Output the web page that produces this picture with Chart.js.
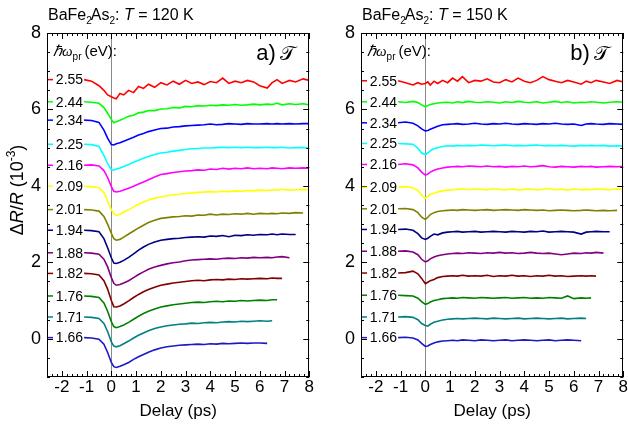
<!DOCTYPE html>
<html><head><meta charset="utf-8">
<script src="https://cdn.jsdelivr.net/npm/chart.js@4/dist/chart.umd.min.js"></script>
<style>
body{margin:0;background:#fff;}
#wrap{position:relative;width:628px;height:430px;overflow:hidden;}
.pan{position:absolute;top:0;width:314px;height:430px;}
</style>
</head><body>
<div id="wrap">
<div class="pan" style="left:0"><canvas id="c1" width="314" height="430"></canvas></div>
<div class="pan" style="left:314px"><canvas id="c2" width="314" height="430"></canvas></div>
</div>
<script>
// ---- data ----
const delays = [-1.1,-0.8,-0.5,-0.3,-0.15,0,0.1,0.2,0.35,0.5,0.7,0.9,1.1,1.3,1.5,1.75,2.0,2.25,2.5,2.75,3.0,3.25,3.5,3.75,4.0,4.25,4.5,4.75,5.0,5.25,5.5,5.75,6.0,6.3,6.5,6.7,6.9,7.2,7.45,7.75,8.0];
const energies = ['2.55','2.44','2.34','2.25','2.16','2.09','2.01','1.94','1.88','1.82','1.76','1.71','1.66'];
const colors = ['#ff0000','#00ff00','#0000ff','#00ffff','#ff00ff','#ffff00','#808000','#000080','#800080','#800000','#008000','#008080','#1a1ac4'];
const xTickValues = [-2,-1,0,1,2,3,4,5,6,7,8];
const yTickValues = [0,2,4,6,8];

// T = 120 K
const a255 = [6.78,6.74,6.62,6.50,6.38,6.33,6.30,6.28,6.42,6.38,6.50,6.44,6.60,6.55,6.66,6.58,6.70,6.64,6.74,6.66,6.76,6.68,6.72,6.65,6.73,6.70,6.82,6.68,6.74,6.70,6.76,6.72,6.62,6.56,6.70,6.78,6.68,6.76,6.72,6.80,6.76];
const a244 = [6.20,6.19,6.16,6.05,5.90,5.74,5.65,5.68,5.72,5.76,5.82,5.85,5.91,5.93,5.97,5.97,6.01,6.02,6.05,6.04,6.08,6.07,6.10,6.09,6.11,6.10,6.12,6.11,6.13,6.11,6.12,6.14,6.12,6.14,6.13,6.16,6.12,6.15,6.13,6.15,6.12];
const a234 = [5.72,5.71,5.66,5.46,5.25,5.08,5.07,5.10,5.13,5.17,5.22,5.27,5.33,5.37,5.42,5.46,5.50,5.51,5.54,5.55,5.57,5.58,5.59,5.60,5.62,5.60,5.61,5.63,5.62,5.61,5.63,5.62,5.62,5.63,5.62,5.63,5.62,5.63,5.62,5.63,5.63];
const a225 = [5.09,5.08,5.03,4.80,4.58,4.43,4.41,4.44,4.47,4.51,4.56,4.62,4.67,4.72,4.77,4.82,4.86,4.88,4.91,4.93,4.95,4.97,4.98,4.99,4.99,5.00,5.01,5.00,5.01,5.00,5.01,5.00,5.00,5.01,5.00,5.00,5.01,4.99,5.00,5.00,4.99];
const a216 = [4.54,4.55,4.52,4.40,4.22,3.98,3.86,3.84,3.86,3.89,3.94,3.99,4.05,4.10,4.16,4.23,4.30,4.32,4.35,4.37,4.39,4.40,4.42,4.41,4.44,4.43,4.46,4.44,4.46,4.45,4.47,4.45,4.46,4.45,4.47,4.46,4.45,4.47,4.46,4.47,4.46];
const a209 = [3.99,3.98,3.95,3.82,3.60,3.38,3.27,3.23,3.26,3.31,3.38,3.45,3.52,3.58,3.63,3.68,3.71,3.74,3.77,3.78,3.80,3.81,3.83,3.84,3.85,3.84,3.86,3.85,3.87,3.86,3.88,3.87,3.89,3.88,3.90,3.89,3.91,3.89,3.90,3.91,3.90];
const a201 = [3.38,3.37,3.34,3.20,3.00,2.76,2.62,2.58,2.60,2.66,2.74,2.82,2.90,2.97,3.04,3.10,3.15,3.17,3.19,3.20,3.22,3.21,3.24,3.23,3.26,3.24,3.26,3.25,3.27,3.26,3.28,3.26,3.28,3.27,3.28,3.27,3.29,3.28,3.30,3.29];
const a194 = [2.84,2.83,2.80,2.62,2.38,2.12,1.98,1.97,2.00,2.05,2.13,2.22,2.32,2.40,2.47,2.53,2.58,2.60,2.62,2.63,2.65,2.66,2.67,2.66,2.69,2.68,2.70,2.67,2.71,2.70,2.72,2.71,2.73,2.72,2.74,2.72,2.74,2.73,2.73];
const a188 = [2.25,2.24,2.21,2.08,1.88,1.60,1.45,1.40,1.42,1.46,1.52,1.60,1.68,1.75,1.82,1.88,1.92,1.96,1.99,2.01,2.04,2.06,2.07,2.08,2.09,2.08,2.10,2.11,2.10,2.12,2.11,2.13,2.12,2.13,2.12,2.14,2.15,2.12];
const a182 = [1.71,1.70,1.67,1.52,1.30,1.00,0.84,0.83,0.86,0.91,0.99,1.08,1.16,1.23,1.29,1.35,1.40,1.43,1.46,1.48,1.50,1.52,1.53,1.52,1.54,1.55,1.54,1.56,1.55,1.57,1.56,1.57,1.58,1.57,1.59,1.58,1.58];
const a176 = [1.12,1.11,1.08,0.94,0.72,0.45,0.32,0.29,0.32,0.36,0.43,0.51,0.59,0.66,0.72,0.78,0.83,0.86,0.89,0.91,0.93,0.95,0.96,0.95,0.97,0.98,0.97,0.99,0.98,1.00,0.99,1.00,1.01,1.00,1.02,1.02];
const a171 = [0.57,0.56,0.53,0.40,0.19,-0.08,-0.19,-0.21,-0.18,-0.13,-0.06,0.02,0.09,0.15,0.21,0.27,0.31,0.34,0.36,0.38,0.39,0.41,0.40,0.42,0.43,0.42,0.44,0.45,0.44,0.46,0.45,0.46,0.47,0.46,0.47];
const a166 = [0.03,0.02,-0.01,-0.14,-0.36,-0.62,-0.73,-0.75,-0.72,-0.68,-0.62,-0.54,-0.47,-0.41,-0.35,-0.29,-0.24,-0.21,-0.19,-0.17,-0.16,-0.15,-0.14,-0.15,-0.13,-0.14,-0.12,-0.13,-0.12,-0.11,-0.12,-0.11,-0.11,-0.12];

// T = 150 K
const b255 = [6.75,6.70,6.64,6.70,6.66,6.68,6.72,6.64,6.74,6.68,6.76,6.70,6.82,6.74,6.86,6.70,6.76,6.74,6.80,6.72,6.70,6.78,6.72,6.82,6.74,6.70,6.76,6.86,6.78,6.74,6.70,6.76,6.72,6.66,6.74,6.70,6.76,6.72,6.68,6.76,6.72];
const b244 = [6.20,6.18,6.21,6.18,6.12,6.07,6.10,6.13,6.15,6.17,6.18,6.19,6.17,6.20,6.18,6.21,6.19,6.18,6.20,6.19,6.17,6.20,6.18,6.21,6.19,6.18,6.20,6.17,6.19,6.21,6.18,6.20,6.17,6.19,6.18,6.20,6.19,6.17,6.19,6.20,6.19];
const b234 = [5.65,5.67,5.64,5.57,5.49,5.44,5.45,5.48,5.52,5.56,5.60,5.61,5.62,5.63,5.61,5.62,5.64,5.62,5.61,5.63,5.62,5.64,5.62,5.61,5.63,5.62,5.61,5.63,5.62,5.64,5.62,5.61,5.62,5.58,5.62,5.63,5.62,5.61,5.63,5.62,5.61];
const b225 = [5.11,5.10,5.09,4.98,4.86,4.82,4.86,4.92,4.97,5.00,5.03,5.05,5.04,5.06,5.05,5.06,5.05,5.07,5.06,5.05,5.06,5.07,5.05,5.06,5.05,5.06,5.07,5.05,5.06,5.05,5.06,5.05,5.04,5.06,5.05,5.06,5.05,5.06,5.04,5.05,5.04];
const b216 = [4.56,4.58,4.55,4.47,4.36,4.28,4.31,4.36,4.41,4.44,4.47,4.49,4.50,4.51,4.50,4.52,4.51,4.50,4.52,4.50,4.51,4.49,4.51,4.50,4.52,4.50,4.51,4.53,4.50,4.49,4.51,4.50,4.49,4.51,4.50,4.51,4.49,4.50,4.51,4.50,4.51];
const b209 = [3.96,3.98,3.95,3.88,3.76,3.67,3.72,3.78,3.81,3.84,3.87,3.89,3.90,3.91,3.92,3.90,3.92,3.91,3.90,3.93,3.91,3.90,3.92,3.89,3.91,3.92,3.90,3.91,3.93,3.90,3.91,3.89,3.92,3.90,3.91,3.90,3.92,3.91,3.90,3.92,3.91];
const b201 = [3.40,3.41,3.38,3.30,3.18,3.12,3.18,3.25,3.30,3.33,3.35,3.36,3.37,3.36,3.38,3.37,3.36,3.37,3.38,3.36,3.37,3.38,3.37,3.36,3.38,3.37,3.36,3.37,3.35,3.36,3.37,3.36,3.35,3.36,3.37,3.36,3.35,3.36,3.35,3.36];
const b194 = [2.86,2.87,2.84,2.75,2.64,2.60,2.63,2.68,2.74,2.72,2.77,2.79,2.80,2.81,2.79,2.80,2.81,2.79,2.80,2.81,2.80,2.79,2.81,2.80,2.79,2.81,2.80,2.82,2.79,2.80,2.81,2.80,2.79,2.74,2.79,2.80,2.81,2.80,2.80];
const b188 = [2.29,2.30,2.27,2.20,2.08,2.01,2.04,2.09,2.14,2.17,2.20,2.22,2.23,2.24,2.23,2.25,2.24,2.23,2.25,2.24,2.26,2.24,2.25,2.23,2.24,2.26,2.24,2.23,2.24,2.22,2.20,2.22,2.24,2.23,2.25,2.24,2.26,2.24];
const b182 = [1.72,1.73,1.77,1.70,1.58,1.44,1.48,1.52,1.55,1.60,1.63,1.64,1.65,1.64,1.66,1.64,1.65,1.64,1.66,1.63,1.65,1.64,1.66,1.64,1.65,1.63,1.65,1.64,1.66,1.64,1.65,1.63,1.64,1.65,1.64,1.65,1.64];
const b176 = [1.14,1.13,1.12,1.06,0.97,0.90,0.92,0.96,1.00,1.02,1.05,1.06,1.07,1.06,1.08,1.07,1.06,1.08,1.07,1.06,1.07,1.08,1.06,1.07,1.08,1.06,1.07,1.06,1.08,1.07,1.06,1.12,1.05,1.07,1.06,1.07];
const b171 = [0.57,0.58,0.56,0.50,0.40,0.35,0.33,0.38,0.43,0.46,0.49,0.51,0.52,0.53,0.52,0.53,0.54,0.53,0.52,0.54,0.53,0.52,0.53,0.54,0.52,0.53,0.54,0.53,0.52,0.53,0.54,0.52,0.53,0.54,0.53];
const b166 = [0.03,0.04,0.02,-0.03,-0.12,-0.20,-0.19,-0.15,-0.11,-0.08,-0.06,-0.05,-0.04,-0.05,-0.03,-0.04,-0.05,-0.03,-0.04,-0.05,-0.04,-0.03,-0.05,-0.04,-0.03,-0.04,-0.05,-0.04,-0.03,-0.05,-0.04,-0.03,-0.04,-0.05];

const series120 = [a255,a244,a234,a225,a216,a209,a201,a194,a188,a182,a176,a171,a166];
const series150 = [b255,b244,b234,b225,b216,b209,b201,b194,b188,b182,b176,b171,b166];

// ---- drawing ----
const FONT = "'Liberation Sans', Arial, sans-serif";
Chart.defaults.font.family = FONT;
Chart.defaults.color = '#000';

function rich(ctx, x, y, segs){
  let cx = x;
  segs.forEach(s => {
    ctx.font = s.f;
    ctx.fillText(s.t, cx, y + (s.dy||0));
    cx += ctx.measureText(s.t).width + (s.k||0);
  });
  return cx;
}

const deco = {
  id: 'deco',
  beforeDatasetsDraw(chart, args, o){
    const {ctx, chartArea:a, scales:{x}} = chart;
    ctx.save();
    ctx.strokeStyle = '#8a8a8a'; ctx.lineWidth = 1;
    const x0 = Math.round(x.getPixelForValue(0)) + 0.5;
    ctx.beginPath(); ctx.moveTo(x0, a.top); ctx.lineTo(x0, a.bottom); ctx.stroke();
    ctx.restore();
  },
  afterDraw(chart, args, o){
    const {ctx, chartArea:a, scales:{x, y}} = chart;
    ctx.save();
    // frame
    ctx.strokeStyle = '#000'; ctx.lineWidth = 1;
    ctx.strokeRect(Math.round(a.left)+0.5, Math.round(a.top)+0.5, Math.round(a.right-a.left)-1, Math.round(a.bottom-a.top)-1);
    // inside ticks on all sides
    ctx.beginPath();
    for (let k = Math.ceil(x.min*5); k <= Math.floor(x.max*5); k++){
      const px = Math.round(x.getPixelForValue(k/5)) + 0.5;
      const len = (k % 5 === 0) ? 6 : 3;
      ctx.moveTo(px, a.bottom); ctx.lineTo(px, a.bottom - len);
      ctx.moveTo(px, a.top); ctx.lineTo(px, a.top + len);
    }
    for (let k = Math.ceil(y.min*2); k <= Math.floor(y.max*2); k++){
      const py = Math.round(y.getPixelForValue(k/2)) + 0.5;
      const len = (k % 4 === 0) ? 6 : 3;
      ctx.moveTo(a.left, py); ctx.lineTo(a.left + len, py);
      ctx.moveTo(a.right, py); ctx.lineTo(a.right - len, py);
    }
    ctx.stroke();
    // baseline markers + energy labels
    ctx.font = '14px ' + FONT;
    ctx.textAlign = 'right'; ctx.textBaseline = 'middle';
    chart.data.datasets.forEach((ds, i) => {
      const base = ds.data[0].y;
      const py = y.getPixelForValue(base);
      ctx.strokeStyle = ds.borderColor; ctx.lineWidth = 1.5;
      ctx.beginPath(); ctx.moveTo(a.left + 1, py); ctx.lineTo(a.left + 6, py); ctx.stroke();
      ctx.fillStyle = '#000';
      ctx.fillText(energies[i], x.getPixelForValue(ds.data[0].x) - 1, py + 1);
    });
    // texts
    ctx.fillStyle = '#000';
    ctx.textAlign = 'left'; ctx.textBaseline = 'alphabetic';
    rich(ctx, 48, 20, [
      {t:'BaFe', f:'16px '+FONT}, {t:'2', f:'10px '+FONT, dy:4, k:-1},
      {t:'As', f:'16px '+FONT}, {t:'2', f:'10px '+FONT, dy:4},
      {t:': ', f:'16px '+FONT}, {t:'T', f:'italic 16px '+FONT},
      {t:' = ' + o.temp + ' K', f:'16px '+FONT}
    ]);
    rich(ctx, a.left + 6, 56, [
      {t:'\u210F\u03C9', f:'italic 15px "Liberation Serif", serif'},
      {t:'pr', f:'10px '+FONT, dy:4, k:3},
      {t:'(eV):', f:'15px '+FONT}
    ]);
    rich(ctx, a.right - 53, 60, [
      {t:o.panel + ')', f:'22px '+FONT, k:4},
      {t:'\u{1D4AF}', f:'20px "DejaVu Sans", serif'}
    ]);
    if (o.ytitle){
      ctx.translate(23, 190);
      ctx.rotate(-Math.PI/2);
      const segs = [
        {t:'\u0394', f:'18px '+FONT}, {t:'R', f:'italic 18px '+FONT},
        {t:'/', f:'18px '+FONT}, {t:'R', f:'italic 18px '+FONT},
        {t:' (10', f:'18px '+FONT}, {t:'-3', f:'12px '+FONT, dy:-8}, {t:')', f:'18px '+FONT}
      ];
      let w = 0; segs.forEach(s => { ctx.font = s.f; w += ctx.measureText(s.t).width; });
      rich(ctx, -w/2, 0, segs);
    }
    ctx.restore();
  }
};

function makeChart(id, series, temp, panel, ytitle){
  const datasets = series.map((vals, i) => ({
    data: vals.map((v, j) => ({x: delays[j], y: v})),
    borderColor: colors[i],
    borderWidth: 1.6,
    pointRadius: 0,
    tension: 0,
    fill: false
  }));
  return new Chart(document.getElementById(id), {
    type: 'line',
    data: {datasets},
    plugins: [deco],
    options: {
      responsive: false,
      animation: false,
      layout: {padding: {top: 33, right: 4, left: 0, bottom: 0}},
      plugins: {
        legend: {display: false}, tooltip: {enabled: false},
        deco: {temp, panel, ytitle}
      },
      scales: {
        x: {
          type: 'linear', min: -2.6, max: 8,
          afterBuildTicks: s => { s.ticks = xTickValues.map(v => ({value: v})); },
          afterFit: s => { s.height = 53; },
          grid: {display: false, drawTicks: false},
          border: {display: false},
          ticks: {font: {size: 17}, padding: 0, color: '#000', maxRotation: 0, autoSkip: false},
          title: {display: true, text: 'Delay (ps)', font: {size: 17}, color: '#000', padding: {top: 0, bottom: 8}}
        },
        y: {
          type: 'linear', min: -1, max: 8,
          afterBuildTicks: s => { s.ticks = yTickValues.map(v => ({value: v})); },
          afterFit: s => { s.width = 47; },
          grid: {display: false, drawTicks: false},
          border: {display: false},
          ticks: {font: {size: 18}, padding: 6, color: '#000', autoSkip: false}
        }
      }
    }
  });
}

makeChart('c1', series120, '120', 'a', true);
makeChart('c2', series150, '150', 'b', false);
</script>
</body></html>
